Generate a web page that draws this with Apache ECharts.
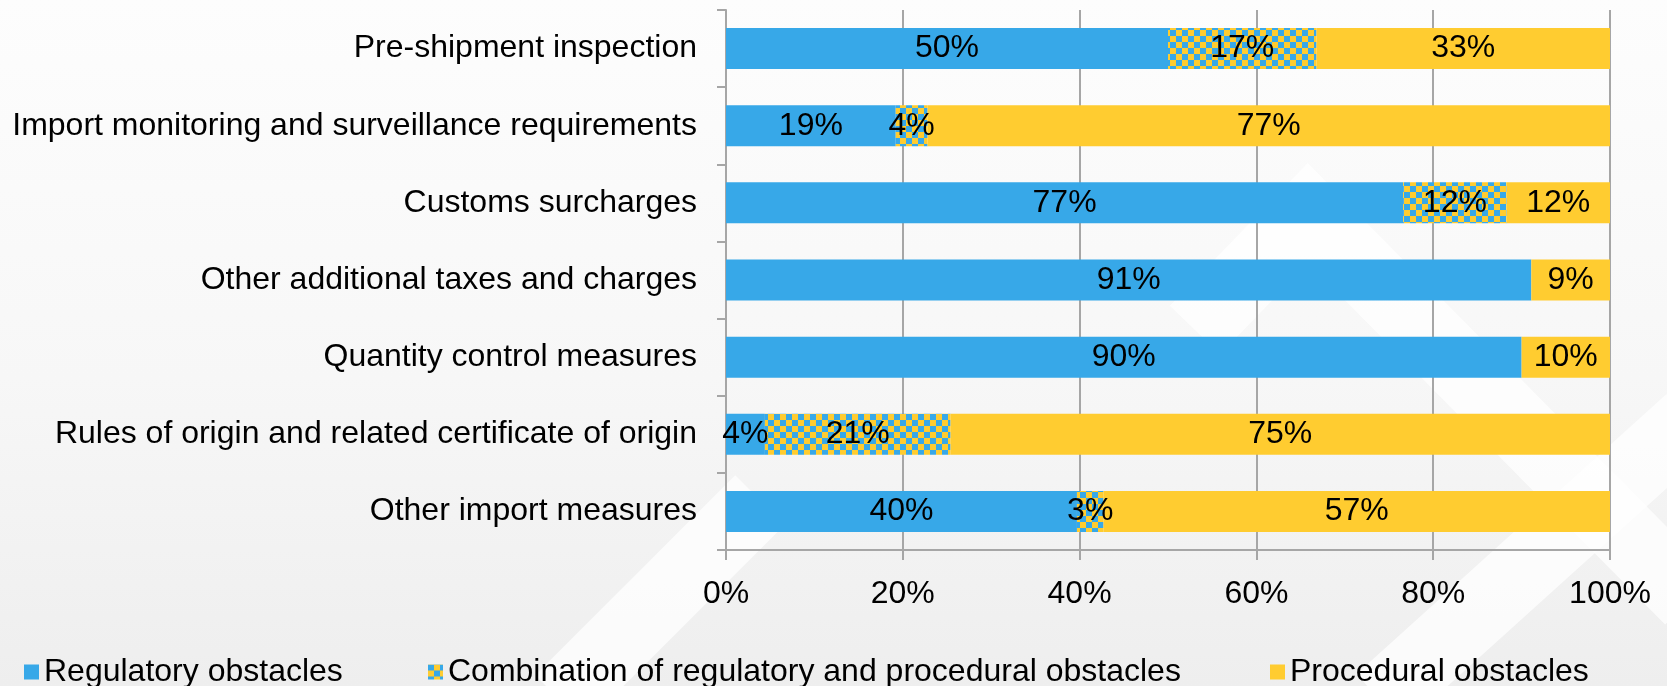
<!DOCTYPE html>
<html>
<head>
<meta charset="utf-8">
<script src="https://cdn.jsdelivr.net/npm/echarts@6/dist/echarts.min.js"></script>
<style>
  html, body { margin: 0; padding: 0; }
  #chart { width: 1667px; height: 686px; }
</style>
</head>
<body>
<div id="chart"></div>
<script>
// categories, top to bottom
var measures = [
  'Pre-shipment inspection',
  'Import monitoring and surveillance requirements',
  'Customs surcharges',
  'Other additional taxes and charges',
  'Quantity control measures',
  'Rules of origin and related certificate of origin',
  'Other import measures'
];
// shares in %
var regulatory = [50, 19.2, 76.6, 91.1, 90, 4.4, 39.7];
var combination = [16.8, 3.6, 11.7, 0, 0, 21, 3];
var procedural = [33.2, 77.2, 11.7, 8.9, 10, 74.6, 57.3];
var seriesNames = [
  'Regulatory obstacles',
  'Combination of regulatory and procedural obstacles',
  'Procedural obstacles'
];
var xTicks = [0, 20, 40, 60, 80, 100];

var blue = '#37a8e8';
var yellow = '#ffcc30';
var font = '"Liberation Sans", Arial, sans-serif';

// checkerboard fill for the mixed category
var cell = 6;
var checker = document.createElement('canvas');
checker.width = cell * 2;
checker.height = cell * 2;
var ctx = checker.getContext('2d');
ctx.fillStyle = yellow;
ctx.fillRect(0, 0, cell * 2, cell * 2);
ctx.fillStyle = blue;
ctx.fillRect(0, 0, cell, cell);
ctx.fillRect(cell, cell, cell, cell);

var myChart = echarts.init(document.getElementById('chart'));

function pctLabel(p) {
  if (!p.value) return '';
  return Math.round(p.value) + '%';
}

var labelStyle = {
  show: true,
  position: 'inside',
  color: '#000',
  fontSize: 32,
  fontFamily: font,
  formatter: pctLabel
};

// faint white chevrons of the slide background
var bands = [
  [[1195, 330], [1308, 213], [1690, 600]],
  [[1380, 700], [1690, 420]],
  [[560, 700], [760, 500]]
];

myChart.setOption({
  animation: false,
  backgroundColor: {
    type: 'linear', x: 0, y: 0, x2: 0, y2: 1,
    colorStops: [
      { offset: 0, color: '#fdfdfd' },
      { offset: 0.55, color: '#f7f7f7' },
      { offset: 1, color: '#eeeeee' }
    ]
  },
  graphic: bands.map(function (pts) {
    return {
      type: 'polyline',
      z: -10,
      silent: true,
      shape: { points: pts },
      style: { stroke: 'rgba(255,255,255,0.75)', lineWidth: 70, fill: null }
    };
  }),
  legend: [
    { left: 19, top: 651, data: [seriesNames[0]] },
    { left: 423, top: 651, data: [seriesNames[1]] },
    { left: 1265, top: 651, data: [seriesNames[2]] }
  ].map(function (l) {
    l.icon = 'rect';
    l.itemWidth = 15;
    l.itemHeight = 15;
    l.selectedMode = false;
    l.textStyle = { fontSize: 32, color: '#000', fontFamily: font };
    return l;
  }),
  grid: { left: 726, right: 57, top: 10, bottom: 136, containLabel: false },
  xAxis: {
    type: 'value',
    min: 0,
    max: 100,
    interval: 20,
    axisLine: { show: true, lineStyle: { color: '#a6a6a6', width: 2 } },
    axisTick: { show: true, length: 10, lineStyle: { color: '#a6a6a6', width: 2 } },
    splitLine: { show: true, lineStyle: { color: '#a6a6a6', width: 2 } },
    axisLabel: {
      margin: 28,
      color: '#000',
      fontSize: 32,
      fontFamily: font,
      formatter: function (v) { return xTicks.indexOf(v) >= 0 ? v + '%' : ''; }
    }
  },
  yAxis: {
    type: 'category',
    inverse: true,
    data: measures,
    axisLine: { show: true, lineStyle: { color: '#a6a6a6', width: 2 } },
    axisTick: { show: true, length: 9, lineStyle: { color: '#a6a6a6', width: 2 } },
    axisLabel: {
      margin: 29,
      color: '#000',
      fontSize: 32,
      fontFamily: font
    }
  },
  series: [
    {
      name: seriesNames[0],
      type: 'bar',
      stack: 'total',
      barWidth: 41,
      data: regulatory,
      itemStyle: { color: blue },
      label: labelStyle,
      emphasis: { disabled: true }
    },
    {
      name: seriesNames[1],
      type: 'bar',
      stack: 'total',
      barWidth: 41,
      data: combination,
      itemStyle: { color: { image: checker, repeat: 'repeat' } },
      label: labelStyle,
      emphasis: { disabled: true }
    },
    {
      name: seriesNames[2],
      type: 'bar',
      stack: 'total',
      barWidth: 41,
      data: procedural,
      itemStyle: { color: yellow },
      label: labelStyle,
      emphasis: { disabled: true }
    }
  ]
});
</script>
</body>
</html>
